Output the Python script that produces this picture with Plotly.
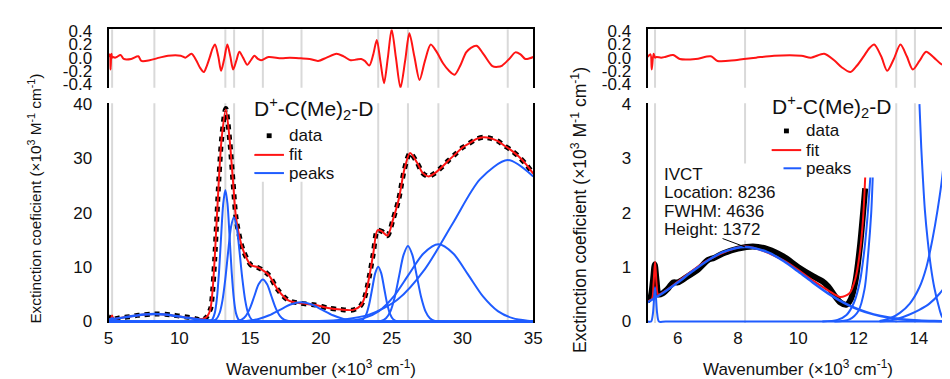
import plotly.graph_objects as go

W, H = 950, 379
FONT = "Liberation Sans, Arial, sans-serif"
BLUE = "#1f5cff"
RED = "#ff1414"
GRAY = "#d9d9d9"
TXT = "#111111"

# ---------------- data ----------------
# measured spectrum (x in 1e3 cm-1, y in 1e3 M-1 cm-1)
data_x = [5.0, 5.1, 5.18, 5.24, 5.3, 5.37, 5.5, 5.7, 5.85, 6.0, 6.3, 6.7, 7.0, 7.2, 7.5, 8.0, 8.5,
          9.0, 9.5, 10.0, 10.5, 10.8, 11.0, 11.2, 11.4, 11.6, 11.75, 11.9, 12.05, 12.15, 12.22,
          12.35, 12.5, 12.8, 13.0, 13.28, 13.56, 13.8, 14.03, 14.5, 15.06, 15.5, 15.8, 16.3, 17.0,
          17.7, 18.6, 19.6, 20.5, 21.4, 22.3, 22.8, 23.1, 23.4, 23.7, 24.0, 24.3, 24.7, 25.1, 25.5,
          25.9, 26.3, 26.8, 27.2, 27.6, 28.0, 28.5, 29.0, 29.5, 30.0, 30.5, 31.0, 31.5, 32.0, 32.5,
          33.0, 33.5, 34.0, 34.5, 35.0]
data_y = [0.38, 0.45, 0.75, 1.05, 0.75, 0.5, 0.52, 0.62, 0.72, 0.72, 0.82, 0.97, 1.13, 1.17, 1.25,
          1.34, 1.38, 1.33, 1.2, 1.0, 0.83, 0.74, 0.64, 0.48, 0.35, 0.31, 0.42, 0.75, 1.4, 2.0, 2.45,
          5.5, 11.5, 26.5, 34.0, 39.2, 33.3, 25.5, 18.6, 13.2, 10.4, 10.0, 9.6, 8.6, 5.7,
          3.9, 3.35, 3.05, 2.5, 2.2, 2.15, 2.9, 4.5, 8.0, 12.5, 16.8, 16.6, 15.8, 18.8, 22.5,
          28.0, 31.0, 29.2, 27.3, 26.7, 27.2, 28.3, 29.6, 30.8, 32.0, 32.8, 33.6, 33.9, 33.7, 33.2,
          32.3, 31.4, 30.3, 28.9, 27.2]
data_cut = 12.22   # the zoomed panel shows the spectrum only up to here

# fitted sum
fit_x = [5.0, 5.15, 5.2, 5.25, 5.3, 5.35, 5.5, 6.0, 7.0, 8.24, 9.5, 10.5, 11.0, 11.4, 11.7, 11.9,
         12.05, 12.15, 12.22, 12.35, 12.5, 12.8, 13.0, 13.28, 13.56, 13.8, 14.03, 14.5, 15.06, 15.5,
         15.8, 16.3, 17.0, 17.7, 18.6, 19.6, 20.5, 21.4, 22.3, 22.8, 23.1, 23.4, 23.7, 24.0, 24.3,
         24.7, 25.1, 25.5, 25.9, 26.3, 26.8, 27.2, 27.6, 28.0, 28.5, 29.0, 29.5, 30.0, 30.5, 31.0,
         31.5, 32.0, 32.5, 33.0, 33.5, 34.0, 34.5, 35.0]
fit_y = [0.37, 0.42, 0.7, 1.1, 0.7, 0.5, 0.53, 0.73, 1.13, 1.38, 1.13, 0.75, 0.57, 0.45, 0.52, 0.8,
         1.3, 1.9, 2.65, 5.8, 11.7, 26.5, 34.0, 39.0, 33.3, 25.5, 18.6, 13.2, 10.4, 10.0,
         9.6, 8.6, 5.7, 3.9, 3.35, 3.05, 2.5, 2.2, 2.15, 2.9, 4.5, 8.0, 12.5, 16.8, 16.6,
         15.8, 18.8, 22.5, 28.0, 31.0, 29.2, 27.3, 26.7, 27.2, 28.3, 29.6, 30.8, 32.0, 32.8, 33.6,
         33.9, 33.7, 33.2, 32.3, 31.4, 30.3, 28.9, 27.2]
fit_cut = 12.22

# residual (fit - data)
resid_x = [5.0, 5.1, 5.14, 5.2, 5.25, 5.3, 5.45, 5.58, 5.85, 6.07, 6.6, 7.1, 7.32, 7.9, 8.6, 9.2,
           10.1, 10.42, 10.86, 11.19, 11.45, 11.73, 11.95, 12.17, 12.35, 12.52, 12.75, 12.95,
           13.17, 13.39, 13.6, 13.8, 14.02, 14.24, 14.5, 14.8, 15.05, 15.3, 15.55, 15.77, 16.3,
           17.2, 17.8, 18.6, 19.2, 19.8, 20.4, 21.1, 21.6, 22.1, 22.5, 22.85, 23.1, 23.42, 23.7,
           23.95, 24.2, 24.46, 24.73, 25.0, 25.3, 25.62, 25.95, 26.25, 26.6, 26.97, 27.35, 27.76,
           28.2, 28.64, 29.05, 29.45, 29.85, 30.26, 30.6, 31.0, 31.5, 32.12, 32.5, 32.81, 33.3,
           33.74, 34.1, 34.44, 34.75, 35.0]
resid_y = [0.01, 0.05, -0.18, 0.06, 0.0, 0.01, 0.0, 0.01, 0.04, -0.02, -0.02, 0.02, -0.05, -0.04,
           0.0, 0.03, 0.03, 0.0, 0.06, -0.04, -0.15, -0.22, -0.12, 0.02, 0.14, 0.2, 0.02, -0.2,
           -0.02, 0.2, 0.02, -0.18, -0.05, 0.09, 0.0, -0.11, -0.04, 0.03, -0.02, -0.04, 0.01,
           -0.01, 0.0, -0.01, -0.02, -0.05, 0.0, 0.06, 0.02, -0.04, -0.03, -0.02, -0.05, -0.12, 0.05,
           0.27, -0.05, -0.39, 0.0, 0.43, 0.0, -0.46, -0.05, 0.37, 0.02, -0.34, -0.05, 0.2,
           0.08, -0.09, -0.2, -0.26, -0.12, 0.08, 0.15, 0.18, 0.05, -0.13, -0.14, -0.12, -0.02,
           0.08, 0.05, -0.02, -0.01, 0.01]

# fitted peak components (full range panel)
peak1_x = [5.0, 5.12, 5.18, 5.22, 5.25, 5.28, 5.32, 5.38, 5.6, 35.0]
peak1_y = [0.0, 0.0, 0.15, 0.45, 0.63, 0.45, 0.15, 0.0, 0.0, 0.0]
ivct_x = [5.0, 5.5, 6.0, 6.5, 7.0, 7.5, 8.24, 9.0, 9.5, 10.0, 10.5, 11.0, 11.5, 12.0, 12.5, 13.0,
          13.5, 14.0, 14.5, 15.0, 16.0, 35.0]
ivct_y = [0.354, 0.521, 0.718, 0.928, 1.124, 1.277, 1.372, 1.273, 1.118, 0.92, 0.71, 0.514, 0.349,
          0.222, 0.132, 0.074, 0.039, 0.019, 0.009, 0.004, 0.0, 0.0]
peak3_x = [5.0, 11.9, 12.3, 12.5, 12.65, 12.8, 12.95, 13.1, 13.25, 13.4, 13.55, 13.7, 13.85, 14.0,
           14.2, 14.6, 35.0]
peak3_y = [0.0, 0.0, 0.3, 1.55, 4.2, 9.0, 15.6, 21.7, 24.2, 21.7, 15.6, 9.0, 4.2, 1.55, 0.3, 0.0, 0.0]
peak4_x = [5.0, 12.25, 12.6, 12.85, 13.05, 13.25, 13.45, 13.65, 13.85, 14.05, 14.25, 14.45, 14.65,
           14.85, 15.1, 15.45, 35.0]
peak4_y = [0.0, 0.0, 0.4, 1.62, 3.95, 7.9, 12.9, 17.4, 19.2, 17.4, 12.9, 7.9, 3.95, 1.62, 0.4, 0.0, 0.0]
peak5_x = [5.0, 13.8, 14.4, 14.7, 15.0, 15.3, 15.6, 15.9, 16.2, 16.5, 16.8, 17.1, 17.4, 18.0, 35.0]
peak5_y = [0.0, 0.0, 0.34, 1.05, 2.52, 4.7, 6.84, 7.75, 6.84, 4.7, 2.52, 1.05, 0.34, 0.0, 0.0]
peak6_x = [5.0, 13.1, 14.1, 14.85, 15.6, 16.35, 17.1, 17.85, 18.6, 19.35, 20.1, 20.85, 21.6, 22.35,
           23.1, 24.1, 35.0]
peak6_y = [0.0, 0.0, 0.04, 0.16, 0.48, 1.15, 2.15, 3.13, 3.55, 3.13, 2.15, 1.15, 0.48, 0.16, 0.04,
           0.0, 0.0]
peak7_x = [5.0, 22.45, 22.75, 23.0, 23.21, 23.42, 23.63, 23.84, 24.05, 24.26, 24.47, 24.68, 24.89,
           25.1, 25.35, 25.65, 35.0]
peak7_y = [0.0, 0.0, 0.08, 0.44, 1.36, 3.28, 6.13, 8.91, 10.1, 8.91, 6.13, 3.28, 1.36, 0.44, 0.08,
           0.0, 0.0]
peak8_x = [5.0, 23.75, 24.25, 24.6, 24.91, 25.22, 25.53, 25.84, 26.15, 26.46, 26.77, 27.08, 27.39,
           27.7, 28.05, 28.55, 35.0]
peak8_y = [0.0, 0.0, 0.1, 0.61, 1.88, 4.52, 8.44, 12.26, 13.9, 12.26, 8.44, 4.52, 1.88, 0.61, 0.1,
           0.0, 0.0]
peak9_x = [5.0, 19.5, 21.0, 22.0, 23.05, 24.1, 25.15, 26.2, 27.25, 28.3, 29.35, 30.4, 31.45, 32.5,
           33.55, 34.6, 35.0]
peak9_y = [0.0, 0.0, 0.05, 0.16, 0.62, 1.92, 4.62, 8.62, 12.52, 14.2, 12.52, 8.62, 4.62, 1.92,
           0.62, 0.16, 0.1]
peak10_x = [5.0, 17.5, 19.7, 21.5, 23.45, 25.4, 27.35, 29.3, 31.25, 33.2, 35.0]
peak10_y = [0.0, 0.0, 0.074, 0.33, 1.31, 4.0, 9.65, 18.0, 26.2, 29.7, 26.7]

# peak components as drawn in the zoomed (low-energy) panel, 12-15 region
zoom_peak_a_x = [10.8, 11.3, 11.6, 11.85, 12.05, 12.2, 12.3, 12.39]
zoom_peak_a_y = [0.0, 0.03, 0.12, 0.35, 0.75, 1.35, 1.95, 2.65]
zoom_peak_b_x = [11.2, 11.7, 12.0, 12.2, 12.32, 12.42, 12.47]
zoom_peak_b_y = [0.0, 0.04, 0.2, 0.6, 1.25, 2.0, 2.65]
zoom_peak_c_x = [14.02, 14.08, 14.13, 14.2, 14.29, 14.4, 14.51, 14.65, 14.78, 15.0]
zoom_peak_c_y = [4.0, 3.2, 2.68, 2.05, 1.51, 1.0, 0.63, 0.3, 0.08, 0.0]
zoom_peak_d_x = [12.7, 13.05, 13.37, 13.7, 14.02, 14.25, 14.45, 14.62, 14.78, 14.88, 14.95]
zoom_peak_d_y = [0.01, 0.06, 0.16, 0.33, 0.63, 1.0, 1.51, 2.05, 2.68, 3.3, 4.0]
zoom_peak_e_x = [12.7, 13.04, 13.35, 13.69, 14.0, 14.35, 14.7, 15.0]
zoom_peak_e_y = [0.0, 0.02, 0.06, 0.13, 0.21, 0.33, 0.52, 0.75]

peak_centers = [5.25, 8.236, 13.25, 13.87, 15.9, 18.63, 24.05, 26.15, 28.3, 33.2]

resid_ticks = [-0.4, -0.2, 0.0, 0.2, 0.4]
resid_ticktext = ["-0.4", "-0.2", "0.0", "0.2", "0.4"]
left_xticks = [5, 10, 15, 20, 25, 30, 35]
left_yticks = [0, 10, 20, 30, 40]
right_xticks = [6, 8, 10, 12, 14]
right_yticks = [0, 1, 2, 3, 4]

ivct_lines = ["IVCT", "Location: 8236", "FWHM: 4636", "Height: 1372"]
ivct_loc, ivct_height = 8.236, 1.372

legend_title = "D<sup>+</sup>-C(Me)<sub>2</sub>-D"
legend_names = ["data", "fit", "peaks"]
x_title = "Wavenumber (×10<sup>3</sup> cm<sup>-1</sup>)"
y_title = "Exctinction coeficient (×10<sup>3</sup> M<sup>-1</sup> cm<sup>-1</sup>)"

# ---------------- figure ----------------
fig = go.Figure()

def cut(xs, ys, xmax):
    pairs = [(a, b) for a, b in zip(xs, ys) if a <= xmax + 1e-9]
    return [p[0] for p in pairs], [p[1] for p in pairs]

peaks_full = [(peak1_x, peak1_y), (ivct_x, ivct_y), (peak3_x, peak3_y), (peak4_x, peak4_y),
              (peak5_x, peak5_y), (peak6_x, peak6_y), (peak7_x, peak7_y), (peak8_x, peak8_y),
              (peak9_x, peak9_y), (peak10_x, peak10_y)]
peaks_zoom = [(peak1_x, peak1_y), (ivct_x, ivct_y), (zoom_peak_a_x, zoom_peak_a_y),
              (zoom_peak_b_x, zoom_peak_b_y), (zoom_peak_c_x, zoom_peak_c_y),
              (zoom_peak_d_x, zoom_peak_d_y), (zoom_peak_e_x, zoom_peak_e_y)]

for xa, ya, dx, dy, fx, fy, pk, dwidth, ddash in [
        ("x2", "y2", data_x, data_y, fit_x, fit_y, peaks_full, 5, "dot"),
        ("x4", "y4", *cut(data_x, data_y, data_cut), *cut(fit_x, fit_y, fit_cut), peaks_zoom, 6, "solid")]:
    fig.add_trace(go.Scatter(x=dx, y=dy, mode="lines", xaxis=xa, yaxis=ya, name="data",
                             line=dict(color="black", width=dwidth, dash=ddash, shape="spline", smoothing=0.8)))
    fig.add_trace(go.Scatter(x=fx, y=fy, mode="lines", xaxis=xa, yaxis=ya, name="fit",
                             line=dict(color=RED, width=2, shape="spline", smoothing=0.8)))
    for i, (px, py) in enumerate(pk):
        fig.add_trace(go.Scatter(x=px, y=py, mode="lines", xaxis=xa, yaxis=ya, name="peaks",
                                 line=dict(color=BLUE, width=2.5 if i == 1 else 2, shape="spline", smoothing=0.8)))

for xa, ya in [("x", "y"), ("x3", "y3")]:
    fig.add_trace(go.Scatter(x=resid_x, y=resid_y, mode="lines", xaxis=xa, yaxis=ya, name="residual",
                             line=dict(color=RED, width=2, shape="spline", smoothing=0.8)))

# vertical guide lines at the peak centres
shapes = []
for c in peak_centers:
    for xa, ya, xmax in [("x", "y", 35), ("x2", "y2", 35), ("x3", "y3", 15), ("x4", "y4", 15)]:
        if c <= xmax:
            shapes.append(dict(type="line", xref=xa, yref=ya + " domain", x0=c, x1=c, y0=0, y1=1,
                               line=dict(color=GRAY, width=2), layer="below"))

L0, L1 = 97 / W, 528 / W
R0, R1 = 644 / W, 950 / W
res_dom = [1 - 75 / H, 1 - 14 / H]
main_dom = [1 - 320.5 / H, 1 - 91 / H]

# white box behind the left legend (hides guide lines, as in the original)
shapes.append(dict(type="rect", xref="x2 domain", yref="y2 domain", x0=(240 - 97) / 431,
                   x1=(368 - 97) / 431, y0=(320.5 - 173) / 229.5, y1=1.0,
                   fillcolor="white", line=dict(width=0), layer="below"))

# hand-made legends (keys in paper pixels)
def P(px, py):
    return px / W, 1 - py / H

ann = []
for tx, ty, kx0, rows, textx in [(243, 97, 245, (125, 145, 164), 278),
                                 (768, 94, 770, (120, 140, 159), 803)]:
    x, y = P(tx, ty)
    ann.append(dict(text=legend_title, x=x, y=y, xref="paper", yref="paper", showarrow=False,
                    xanchor="left", yanchor="middle", font=dict(family=FONT, size=21, color=TXT)))
    for name, ry in zip(legend_names, rows):
        x, y = P(textx, ry)
        ann.append(dict(text=name, x=x, y=y, xref="paper", yref="paper", showarrow=False,
                        xanchor="left", yanchor="middle", font=dict(family=FONT, size=17, color=TXT)))
    # data key: small square
    x0, y0 = P(kx0 + 12.5, rows[0] + 2.5)
    x1, y1 = P(kx0 + 17.5, rows[0] - 2.5)
    shapes.append(dict(type="rect", xref="paper", yref="paper", x0=x0, x1=x1, y0=y0, y1=y1,
                       fillcolor="black", line=dict(width=0), layer="above"))
    for col, ry in [(RED, rows[1]), (BLUE, rows[2])]:
        x0, y0 = P(kx0, ry)
        x1, _ = P(kx0 + 30, ry)
        shapes.append(dict(type="line", xref="paper", yref="paper", x0=x0, x1=x1, y0=y0, y1=y0,
                           line=dict(color=col, width=2), layer="above"))

axfont = dict(family=FONT, size=17, color=TXT)
ycommon = dict(showgrid=False, zeroline=False, linecolor="black", linewidth=2, tickfont=axfont,
               ticks="outside", ticklen=11, tickcolor="rgba(0,0,0,0)")
xcommon = dict(showgrid=False, zeroline=False, linecolor="black", linewidth=2, tickfont=axfont,
               ticks="", ticklabelstandoff=3)

fig.update_layout(
    width=W, height=H, margin=dict(l=0, r=0, t=0, b=0), showlegend=False,
    paper_bgcolor="white", plot_bgcolor="white", font=axfont,
    xaxis=dict(domain=[L0, L1], range=[5, 35], anchor="y", side="top", showline=True,
               showticklabels=False, **xcommon),
    yaxis=dict(domain=res_dom, range=[-0.46, 0.43], anchor="x", showline=True, mirror=True,
               tickvals=resid_ticks, ticktext=resid_ticktext, **ycommon),
    xaxis2=dict(domain=[L0, L1], range=[5, 35], anchor="y2", showline=False,
                tickvals=left_xticks, **xcommon),
    yaxis2=dict(domain=main_dom, range=[-0.264, 40.176], anchor="x2", showline=True, mirror=True,
                tickvals=left_yticks, **ycommon),
    xaxis3=dict(domain=[R0, R1], range=[5, 15], anchor="y3", side="top", showline=True,
                showticklabels=False, **xcommon),
    yaxis3=dict(domain=res_dom, range=[-0.46, 0.43], anchor="x3", showline=True, mirror=True,
                tickvals=resid_ticks, ticktext=resid_ticktext, **ycommon),
    xaxis4=dict(domain=[R0, R1], range=[5, 15], anchor="y4", showline=False,
                tickvals=right_xticks, **xcommon),
    yaxis4=dict(domain=main_dom, range=[-0.0264, 4.0176], anchor="x4", showline=True, mirror=True,
                tickvals=right_yticks, **ycommon),
    shapes=shapes,
)

for xc in [(L0 + L1) / 2, (R0 + R1) / 2]:
    ann.append(dict(text=x_title, x=xc, y=1 - 367 / H, xref="paper", yref="paper", showarrow=False,
                    xanchor="center", yanchor="middle", font=axfont))
for xc, yc, fs in [(22 / W, 1 - 191 / H, 15.3), (575 / W, 1 - 203 / H, 17.5)]:
    ann.append(dict(text=y_title, x=xc, y=yc, xref="paper", yref="paper", showarrow=False,
                    textangle=-90, xanchor="center", yanchor="middle",
                    font=dict(family=FONT, size=fs, color=TXT)))
for i, t in enumerate(ivct_lines):
    ann.append(dict(text=t, x=659 / W, y=1 - (165 + 19.3 * i) / H, xref="paper", yref="paper",
                    showarrow=False, xanchor="left", yanchor="middle", align="left", width=118,
                    bgcolor="white", font=axfont))
ann.append(dict(text="", x=ivct_loc, y=ivct_height, xref="x4", yref="y4", showarrow=True,
                arrowhead=0, arrowwidth=1, arrowcolor="black", ax=-24, ay=-9, standoff=0))
fig.update_layout(annotations=ann)

fig.write_html("out.html")
